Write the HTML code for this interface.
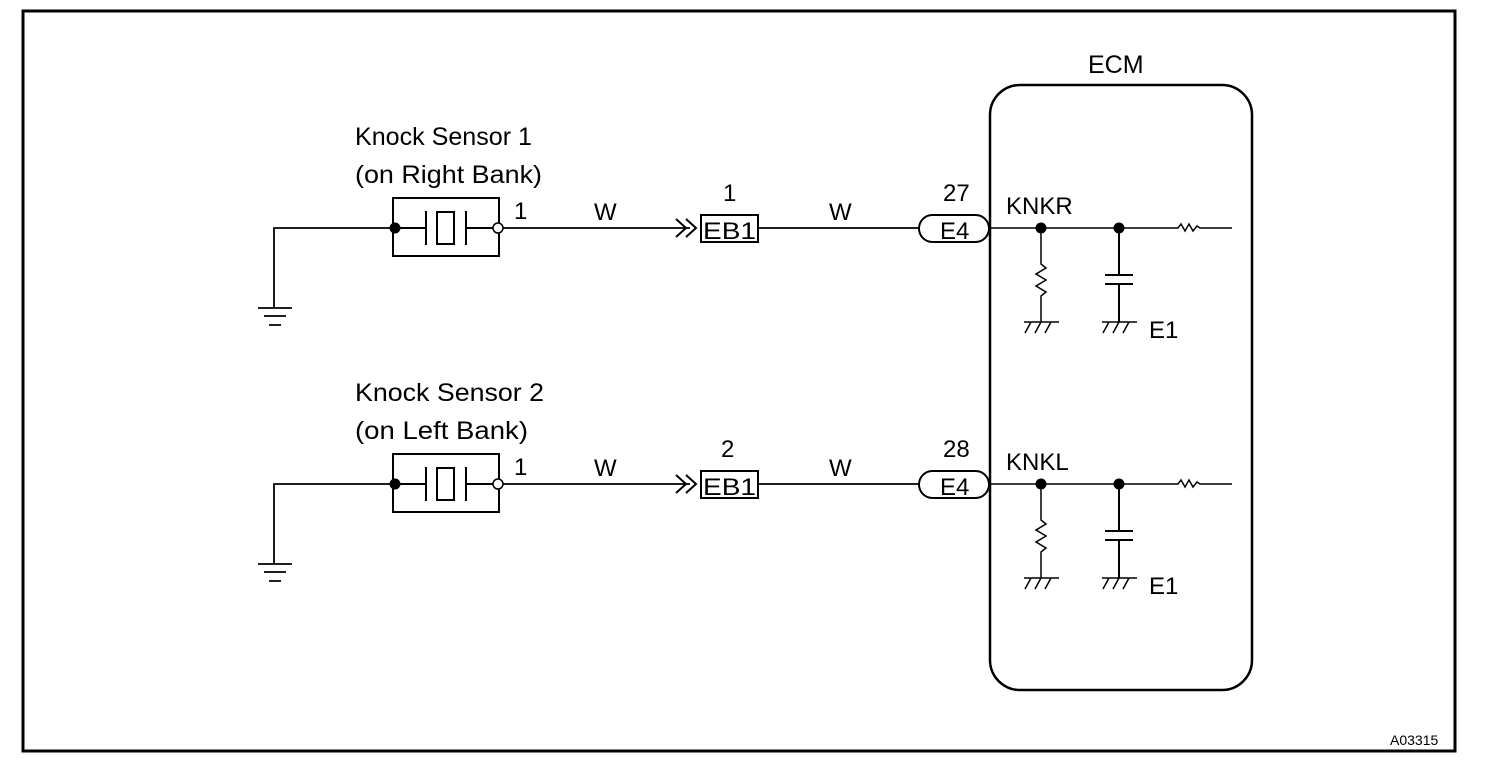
<!DOCTYPE html>
<html><head><style>html,body{margin:0;padding:0;background:#fff}svg{display:block}text{font-weight:500}</style></head>
<body>
<svg width="1504" height="768" viewBox="0 0 1504 768" xmlns="http://www.w3.org/2000/svg" font-family="Liberation Sans, Arial, sans-serif" fill="none" stroke="#000">
<rect x="23" y="11" width="1432" height="740" stroke-width="3"/>
<rect x="990" y="85" width="262" height="605" rx="30" stroke-width="2.5"/>
<text x="1088" y="73" font-size="25" fill="#000" stroke="none">ECM</text>
<text x="1390" y="745" font-size="14" fill="#000" stroke="none" font-weight="bold">A03315</text>
<g id="row">
<text x="355" y="145" font-size="25" fill="#000" stroke="none" textLength="177" lengthAdjust="spacingAndGlyphs">Knock Sensor 1</text>
<text x="355" y="183" font-size="25" fill="#000" stroke="none" textLength="187" lengthAdjust="spacingAndGlyphs">(on Right Bank)</text>
<path d="M395 228 H274 V308" stroke-width="1.8"/>
<path d="M258 308 H292 M264 316 H286 M269 325 H281" stroke-width="1.8"/>
<rect x="393" y="198" width="106" height="58" stroke-width="2"/>
<circle cx="395" cy="228" r="5" fill="#000"/>
<path d="M395 228 H426 M426 211 V245 M466 211 V245 M466 228 H493" stroke-width="2"/>
<rect x="437" y="212" width="17" height="32" stroke-width="2"/>
<circle cx="498" cy="228" r="5" fill="#fff" stroke-width="1.5"/>
<text x="514" y="219" font-size="24" fill="#000" stroke="none">1</text>
<path d="M503 228 H690" stroke-width="1.8"/>
<text x="594" y="220" font-size="24" fill="#000" stroke="none">W</text>
<path d="M676 219 L686 228 L676 237 M686 219 L696 228 L686 237" stroke-width="2"/>
<rect x="701" y="215" width="57" height="27" stroke-width="2"/>
<text x="703" y="239" font-size="24" fill="#000" stroke="none" textLength="53" lengthAdjust="spacingAndGlyphs">EB1</text>
<text x="723" y="201" font-size="24" fill="#000" stroke="none">1</text>
<path d="M758 228 H920" stroke-width="1.8"/>
<text x="829" y="220" font-size="24" fill="#000" stroke="none">W</text>
<rect x="919" y="215" width="70" height="27" rx="13.5" stroke-width="2"/>
<text x="940" y="239" font-size="24" fill="#000" stroke="none">E4</text>
<text x="943" y="201" font-size="24" fill="#000" stroke="none">27</text>
<text x="1006" y="214" font-size="24" fill="#000" stroke="none">KNKR</text>
<path d="M990 228 H1178 L1181 224 L1185 231 L1189 224 L1193 231 L1197 226 L1200 228 H1232" stroke-width="1.5"/>
<circle cx="1041" cy="228" r="5" fill="#000"/>
<circle cx="1119" cy="228" r="5" fill="#000"/>
<path d="M1041 228 V264 L1046 268 L1036 274 L1046 280 L1036 286 L1046 292 L1041 296 V322" stroke-width="1.5"/>
<path d="M1024 322 H1059 M1031 322 L1025 333 M1041 322 L1035 333 M1051 322 L1045 333" stroke-width="1.5"/>
<path d="M1119 228 V274 M1105 275 H1133 M1105 284 H1133 M1119 284 V322" stroke-width="2"/>
<path d="M1102 322 H1137 M1109 322 L1103 333 M1119 322 L1113 333 M1129 322 L1123 333" stroke-width="1.5"/>
<text x="1149" y="338" font-size="24" fill="#000" stroke="none">E1</text>
</g>
<g transform="translate(0,256)">
<text x="355" y="145" font-size="25" fill="#000" stroke="none" textLength="189" lengthAdjust="spacingAndGlyphs">Knock Sensor 2</text>
<text x="355" y="183" font-size="25" fill="#000" stroke="none" textLength="173" lengthAdjust="spacingAndGlyphs">(on Left Bank)</text>
<path d="M395 228 H274 V308" stroke-width="1.8"/>
<path d="M258 308 H292 M264 316 H286 M269 325 H281" stroke-width="1.8"/>
<rect x="393" y="198" width="106" height="58" stroke-width="2"/>
<circle cx="395" cy="228" r="5" fill="#000"/>
<path d="M395 228 H426 M426 211 V245 M466 211 V245 M466 228 H493" stroke-width="2"/>
<rect x="437" y="212" width="17" height="32" stroke-width="2"/>
<circle cx="498" cy="228" r="5" fill="#fff" stroke-width="1.5"/>
<text x="514" y="219" font-size="24" fill="#000" stroke="none">1</text>
<path d="M503 228 H690" stroke-width="1.8"/>
<text x="594" y="220" font-size="24" fill="#000" stroke="none">W</text>
<path d="M676 219 L686 228 L676 237 M686 219 L696 228 L686 237" stroke-width="2"/>
<rect x="701" y="215" width="57" height="27" stroke-width="2"/>
<text x="703" y="239" font-size="24" fill="#000" stroke="none" textLength="53" lengthAdjust="spacingAndGlyphs">EB1</text>
<text x="721" y="201" font-size="24" fill="#000" stroke="none">2</text>
<path d="M758 228 H920" stroke-width="1.8"/>
<text x="829" y="220" font-size="24" fill="#000" stroke="none">W</text>
<rect x="919" y="215" width="70" height="27" rx="13.5" stroke-width="2"/>
<text x="940" y="239" font-size="24" fill="#000" stroke="none">E4</text>
<text x="943" y="201" font-size="24" fill="#000" stroke="none">28</text>
<text x="1006" y="214" font-size="24" fill="#000" stroke="none">KNKL</text>
<path d="M990 228 H1178 L1181 224 L1185 231 L1189 224 L1193 231 L1197 226 L1200 228 H1232" stroke-width="1.5"/>
<circle cx="1041" cy="228" r="5" fill="#000"/>
<circle cx="1119" cy="228" r="5" fill="#000"/>
<path d="M1041 228 V264 L1046 268 L1036 274 L1046 280 L1036 286 L1046 292 L1041 296 V322" stroke-width="1.5"/>
<path d="M1024 322 H1059 M1031 322 L1025 333 M1041 322 L1035 333 M1051 322 L1045 333" stroke-width="1.5"/>
<path d="M1119 228 V274 M1105 275 H1133 M1105 284 H1133 M1119 284 V322" stroke-width="2"/>
<path d="M1102 322 H1137 M1109 322 L1103 333 M1119 322 L1113 333 M1129 322 L1123 333" stroke-width="1.5"/>
<text x="1149" y="338" font-size="24" fill="#000" stroke="none">E1</text>
</g>
</svg>
</body></html>
